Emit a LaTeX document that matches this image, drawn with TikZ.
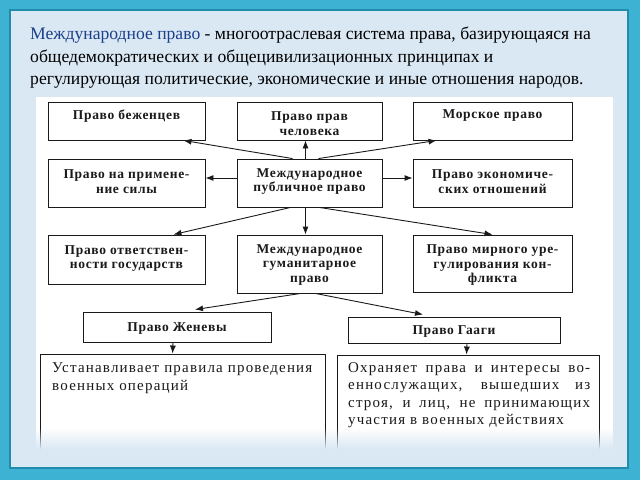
\documentclass[tikz,border=0pt]{standalone}
\usepackage{fontspec}
\setmainfont{Liberation Serif}
\newfontfamily\boxfont[LetterSpace=5]{Liberation Serif}
\newfontfamily\bigfont[LetterSpace=8]{Liberation Serif}
\usetikzlibrary{arrows.meta,calc,fadings}
\definecolor{frameA}{HTML}{3DB2D2}
\definecolor{frameB}{HTML}{1F8CAC}
\definecolor{slidebg}{HTML}{DAE8F4}
\definecolor{titleblue}{HTML}{1B3F8B}
\definecolor{ink}{HTML}{1A1A1A}
\tikzset{
  box/.style={draw=ink, line width=0.9pt, fill=white, inner sep=0pt},
  bt/.style={font=\boxfont\bfseries\fontsize{13.5}{14.5}\selectfont, align=center, text=ink, inner sep=0pt, yshift=-2pt},
  bigt/.style={font=\bigfont\fontsize{15}{18}\selectfont, align=left, text=ink, inner sep=0pt},
  titlet/.style={font=\fontsize{17.6}{22}\selectfont, inner sep=0pt, anchor=base west},
  arr/.style={draw=ink, line width=0.9pt, -{Latex[length=8pt,width=6pt]}}
}
\begin{document}
\begin{tikzpicture}[x=1pt,y=-1pt]
\useasboundingbox (0,0) rectangle (640,480);
% frame and slide background
\fill[frameA] (0,0) rectangle (640,480);
\fill[frameB] (9,9) rectangle (629,469);
\fill[slidebg] (11,11) rectangle (627,467);
\fill[white] (36,97) rectangle (613,467);
% title
\node[titlet] (t1) at (30,39) {\textcolor{titleblue}{Международное право} - многоотраслевая система права, базирующаяся на};
\node[titlet] (t2) at (30,62) {общедемократических и общецивилизационных принципах и};
\node[titlet] (t3) at (30,84) {регулирующая политические, экономические и иные отношения народов.};
% row 1
\node[box, minimum width=157, minimum height=38] (ben) at (126.5,121) {};
\node[box, minimum width=145, minimum height=38] (chel) at (309.5,121) {};
\node[box, minimum width=159, minimum height=38] (mor) at (492.5,121) {};
\node[bt] (ben-t) at (126.5,114) {Право беженцев};
\node[bt] (chel-t) at (309.5,121.5) {Право прав\\человека};
\node[bt] (mor-t) at (492.5,114) {Морское право};
% row 2
\node[box, minimum width=157, minimum height=48] (sila) at (126.5,183) {};
\node[box, minimum width=145, minimum height=48] (pub) at (309.5,183) {};
\node[box, minimum width=159, minimum height=48] (econ) at (492.5,183) {};
\node[bt] (sila-t) at (126.5,179.5) {Право на примене-\\ние силы};
\node[bt] (pub-t) at (309.5,179.5) {Международное\\публичное право};
\node[bt] (econ-t) at (492.5,179.5) {Право экономиче-\\ских отношений};
% row 3
\node[box, minimum width=157, minimum height=49] (otv) at (126.5,259.5) {};
\node[box, minimum width=145, minimum height=58] (gum) at (309.5,264) {};
\node[box, minimum width=159, minimum height=57] (mir) at (492.5,263.5) {};
\node[bt] (otv-t) at (126.5,256.5) {Право ответствен-\\ности государств};
\node[bt] (gum-t) at (309.5,263) {Международное\\гуманитарное\\право};
\node[bt] (mir-t) at (492.5,263.5) {Право мирного уре-\\гулирования кон-\\фликта};
% row 4
\node[box, minimum width=188, minimum height=30] (zhen) at (177,327) {};
\node[box, minimum width=212, minimum height=26] (haag) at (454,330) {};
\node[bt] (zhen-t) at (177,327) {Право Женевы};
\node[bt] (haag-t) at (454,330) {Право Гааги};
% row 5
\node[box, minimum width=285, minimum height=110] (ust) at (182.5,409) {};
\node[box, minimum width=262, minimum height=109] (ohr) at (468,409.5) {};
\node[bigt, anchor=north west] (ust-t) at (52,362) {Устанавливает правила проведения\\военных операций};
\node[bigt, anchor=north west, text width=242pt, align=justify, font=\bigfont\fontsize{15}{17.5}\selectfont] (ohr-t) at (348,362)
 {Охраняет права и интересы во-\linebreak
  еннослужащих, вышедших из\linebreak
  строя, и лиц, не принимающих\linebreak
  участия в военных действиях};
% connectors
\draw[arr] ($(pub.north)+(-17,0)$) -- ($(ben.south east)+(-22,0)$);
\draw[arr] ($(pub.north)+(-4,0)$) -- ($(chel.south)+(-4,0)$);
\draw[arr] ($(pub.north)+(9,0)$) -- ($(mor.south west)+(24,0)$);
\draw[arr] ($(pub.west)+(0,-5)$) -- ($(sila.east)+(0,-5)$);
\draw[arr] ($(pub.east)+(0,-5)$) -- ($(econ.west)+(0,-5)$);
\draw[arr] ($(pub.south)+(-19,0)$) -- ($(otv.north east)+(-32,0)$);
\draw[arr] ($(pub.south)+(-4,0)$) -- ($(gum.north)+(-4,0)$);
\draw[arr] ($(pub.south)+(10,0)$) -- (mir.north);
\draw[arr] ($(gum.south)+(-9,0)$) -- ($(zhen.north)+(18,-2)$);
\draw[arr] ($(gum.south)+(6,0)$) -- ($(haag.north)+(-31,-2)$);
\draw[arr] ($(zhen.south)+(-4,0)$) -- ($(ust.north west)+(133,0)$);
\draw[arr] ($(haag.south)+(13,0)$) -- ($(ohr.north west)+(130,0)$);
% bottom fade of the picture into the slide
\fill[slidebg, path fading=north] (11,428) rectangle (627,449);
\fill[slidebg] (11,449) rectangle (627,467);
\end{tikzpicture}
\end{document}
